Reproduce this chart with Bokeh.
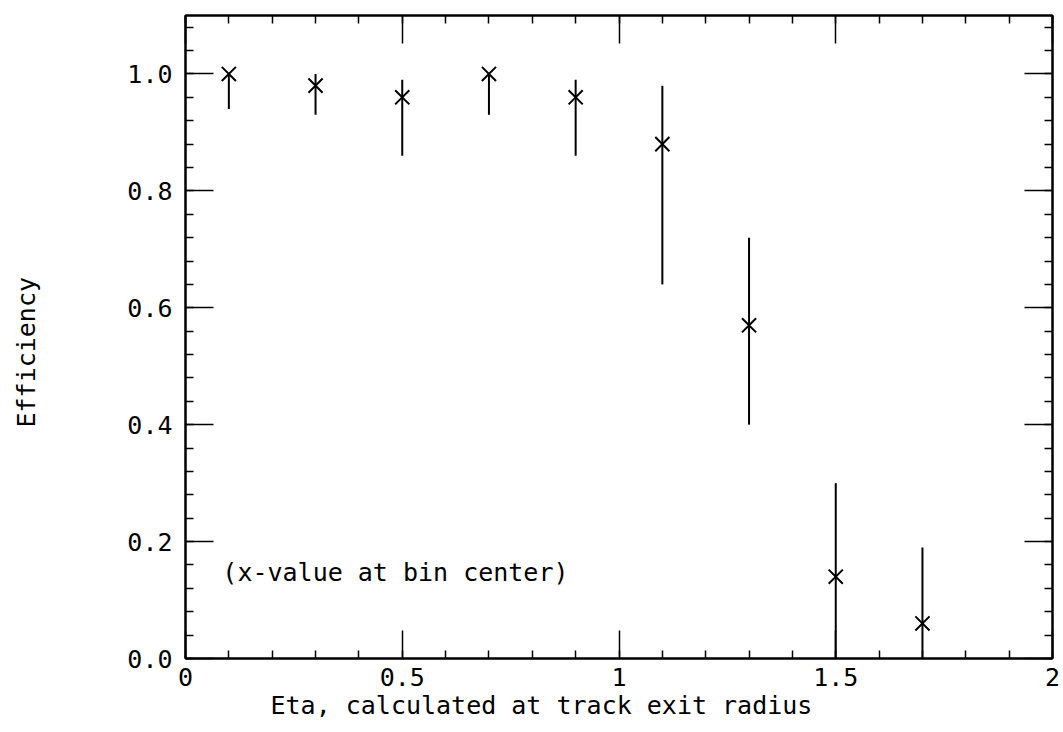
from bokeh.plotting import figure
from bokeh.models import Range1d, LinearAxis, FixedTicker, Label, Title
from bokeh.embed import file_html
from bokeh.resources import INLINE

# ---- data ----
eta = [0.1, 0.3, 0.5, 0.7, 0.9, 1.1, 1.3, 1.5, 1.7]
eff = [1.00, 0.98, 0.96, 1.00, 0.96, 0.88, 0.57, 0.14, 0.06]
err_low = [0.94, 0.93, 0.86, 0.93, 0.86, 0.64, 0.40, 0.00, 0.00]
err_high = [1.00, 1.00, 0.99, 1.00, 0.99, 0.98, 0.72, 0.30, 0.19]

x_major = [0, 0.5, 1, 1.5, 2]
x_major_labels = ["0", "0.5", "1", "1.5", "2"]
x_minor = [i / 10 for i in range(0, 21)]
y_major = [0.0, 0.2, 0.4, 0.6, 0.8, 1.0]
y_major_labels = ["0.0", "0.2", "0.4", "0.6", "0.8", "1.0"]
y_minor = [i * 0.04 for i in range(0, 28)]

x_title = "Eta, calculated at track exit radius"
y_title = "Efficiency"
note = "(x-value at bin center)"

FONT = "DejaVu Sans Mono"

p = figure(width=1060, height=724, output_backend="svg", toolbar_location=None,
           x_range=Range1d(0, 2), y_range=Range1d(0, 1.1),
           x_axis_type=None, y_axis_type=None,
           min_border_left=185, min_border_right=8, min_border_top=15, min_border_bottom=66)
p.xgrid.visible = False
p.ygrid.visible = False
p.outline_line_color = "black"
p.outline_line_width = 2
p.background_fill_color = "white"
p.border_fill_color = "white"


def style(ax, labels):
    ax.axis_line_color = "black"
    ax.axis_line_width = 2
    ax.major_tick_in = 28
    ax.major_tick_out = 0
    ax.minor_tick_in = 8
    ax.minor_tick_out = 0
    ax.major_tick_line_width = 1.5
    ax.minor_tick_line_width = 1.5
    ax.major_tick_line_color = "black"
    ax.minor_tick_line_color = "black"
    ax.major_label_text_font = FONT
    ax.major_label_text_font_size = "25px"
    ax.major_label_text_color = "black"
    if not labels:
        ax.major_label_standoff = 0


bottom = LinearAxis(ticker=FixedTicker(ticks=x_major, minor_ticks=x_minor),
                    major_label_overrides=dict(zip(x_major, x_major_labels)))
style(bottom, True)
bottom.major_label_standoff = 9
left = LinearAxis(ticker=FixedTicker(ticks=y_major, minor_ticks=y_minor),
                  major_label_overrides=dict(zip(y_major, y_major_labels)))
style(left, True)
left.major_label_standoff = 13
top = LinearAxis(ticker=FixedTicker(ticks=x_major, minor_ticks=x_minor),
                 major_label_overrides={t: "" for t in x_major})
style(top, False)
right = LinearAxis(ticker=FixedTicker(ticks=y_major, minor_ticks=y_minor),
                   major_label_overrides={t: "" for t in y_major})
style(right, False)

# invisible spacer between the y tick labels and the y title
spacer = LinearAxis(ticker=FixedTicker(ticks=[0.5], minor_ticks=[]),
                    major_label_overrides={0.5: ""},
                    axis_line_color=None, major_tick_line_color=None,
                    minor_tick_line_color=None, major_tick_in=0, major_tick_out=84,
                    minor_tick_in=0, minor_tick_out=0, major_label_standoff=3)

p.add_layout(bottom, "below")
p.add_layout(left, "left")
p.add_layout(spacer, "left")
p.add_layout(top, "above")
p.add_layout(right, "right")

# axis titles: offset from the frame centre in the reference, so use Titles
p.add_layout(Title(text=x_title, align="left", offset=85, standoff=0,
                   text_font=FONT, text_font_size="25px", text_font_style="normal",
                   text_color="black"), "below")
p.add_layout(Title(text=y_title, align="left", offset=231, standoff=0,
                   text_font=FONT, text_font_size="25px", text_font_style="normal",
                   text_color="black"), "left")

# error bars and markers
p.segment(x0=eta, y0=err_low, x1=eta, y1=err_high, line_color="black", line_width=2)
p.scatter(x=eta, y=eff, marker="x", size=20, line_color="black", line_width=2)

# note inside the frame
p.add_layout(Label(x=0.085, y=0.147, text=note, text_font=FONT, text_font_size="25px",
                   text_color="black", text_align="left", text_baseline="middle"))

open("out.html", "w").write(file_html(p, INLINE))
